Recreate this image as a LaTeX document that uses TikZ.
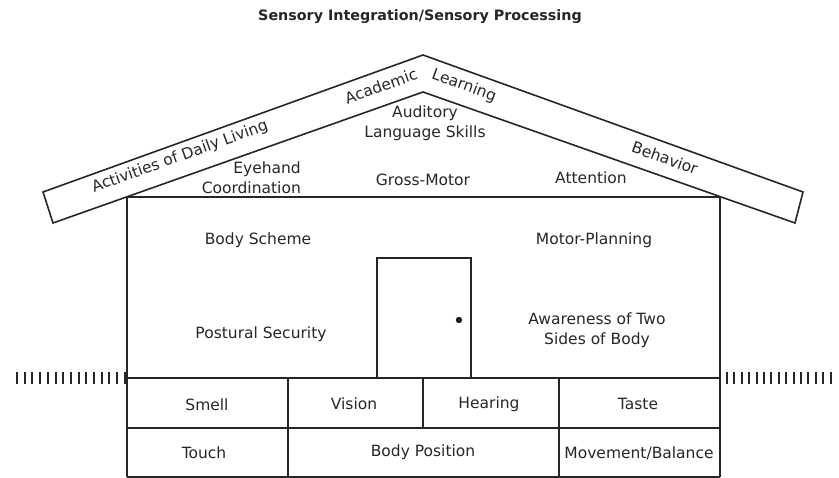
\documentclass[tikz,border=0pt]{standalone}
\usepackage{fontspec}
\setmainfont{DejaVu Sans}
\begin{document}
\begin{tikzpicture}[x=1pt,y=-1pt,
  line/.style={draw=black!85,line width=1.6pt,line join=miter},
  lbl/.style={inner sep=0pt,font=\fontsize{15.5}{19.5}\selectfont,text=black!85,align=center},
  roofl/.style={lbl,rotate=19.8},
  roofr/.style={lbl,rotate=-19.8},
  tick/.style={draw=black!85,line width=2pt}]
\useasboundingbox (0,0) rectangle (839,478);
% title
\node[inner sep=0pt,font=\bfseries\fontsize{14.3}{17}\selectfont,text=black!85] (title) at (420,17) {Sensory Integration/Sensory Processing};
% roof
\coordinate (rA) at (43,192);
\coordinate (rO) at (423,55);
\coordinate (rB) at (803,192);
\coordinate (rC) at (795,223);
\coordinate (rI) at (423,92);
\coordinate (rD) at (53,223);
\draw[line] (rA) -- (rO) -- (rB) -- (rC) -- (rI) -- (rD) -- cycle;
% walls
\coordinate (wTL) at (127,197);
\coordinate (wTR) at (720,197);
\coordinate (wBL) at (127,477);
\coordinate (wBR) at (720,477);
\draw[line] (wBL) -- (wTL) -- (wTR) -- (wBR);
% ground line and rows
\coordinate (g1L) at (127,378);
\coordinate (g1R) at (720,378);
\coordinate (g2L) at (127,428);
\coordinate (g2R) at (720,428);
\draw[line] (g1L) -- (g1R);
\draw[line] (g2L) -- (g2R);
\draw[line] (wBL) -- (wBR);
% row dividers
\draw[line] (288,378) -- (288,477);
\draw[line] (423,378) -- (423,428);
\draw[line] (559,378) -- (559,477);
% door
\draw[line] (377,378) -- (377,258) -- (471,258) -- (471,378);
\fill[black!90] (459,320) circle (3.2);
% ground hatching
\foreach \i in {0,...,14}{
  \draw[tick] ({17+\i*7.7},372) -- ({17+\i*7.7},384);
  \draw[tick] ({727+\i*7.4},372) -- ({727+\i*7.4},384);
}
% roof labels
\node[roofl] (adl) at (180,157) {Activities of Daily Living};
\node[roofl] (acad) at (381,86) {Academic};
\node[roofr] (learn) at (464,86) {Learning};
\node[roofr] (behav) at (665,158) {Behavior};
% attic labels
\node[lbl] (aud) at (425,123) {Auditory\\Language Skills};
\node[lbl,align=right,anchor=east] (eye) at (301,177.5) {Eyehand\\Coordination};
\node[lbl] (gross) at (423,180) {Gross-Motor};
\node[lbl] (attn) at (591,178) {Attention};
% house labels
\node[lbl] (body) at (258,240) {Body Scheme};
\node[lbl] (motor) at (594,240) {Motor-Planning};
\node[lbl] (post) at (261,334) {Postural Security};
\node[lbl] (aware) at (597,330) {Awareness of Two\\Sides of Body};
% foundation labels
\node[lbl] (smell) at (207,405) {Smell};
\node[lbl] (vision) at (354,404) {Vision};
\node[lbl] (hear) at (489,404) {Hearing};
\node[lbl] (taste) at (638,404) {Taste};
\node[lbl] (touch) at (204,453) {Touch};
\node[lbl] (bpos) at (423,452) {Body Position};
\node[lbl] (move) at (639,453) {Movement/Balance};
\end{tikzpicture}
\end{document}
